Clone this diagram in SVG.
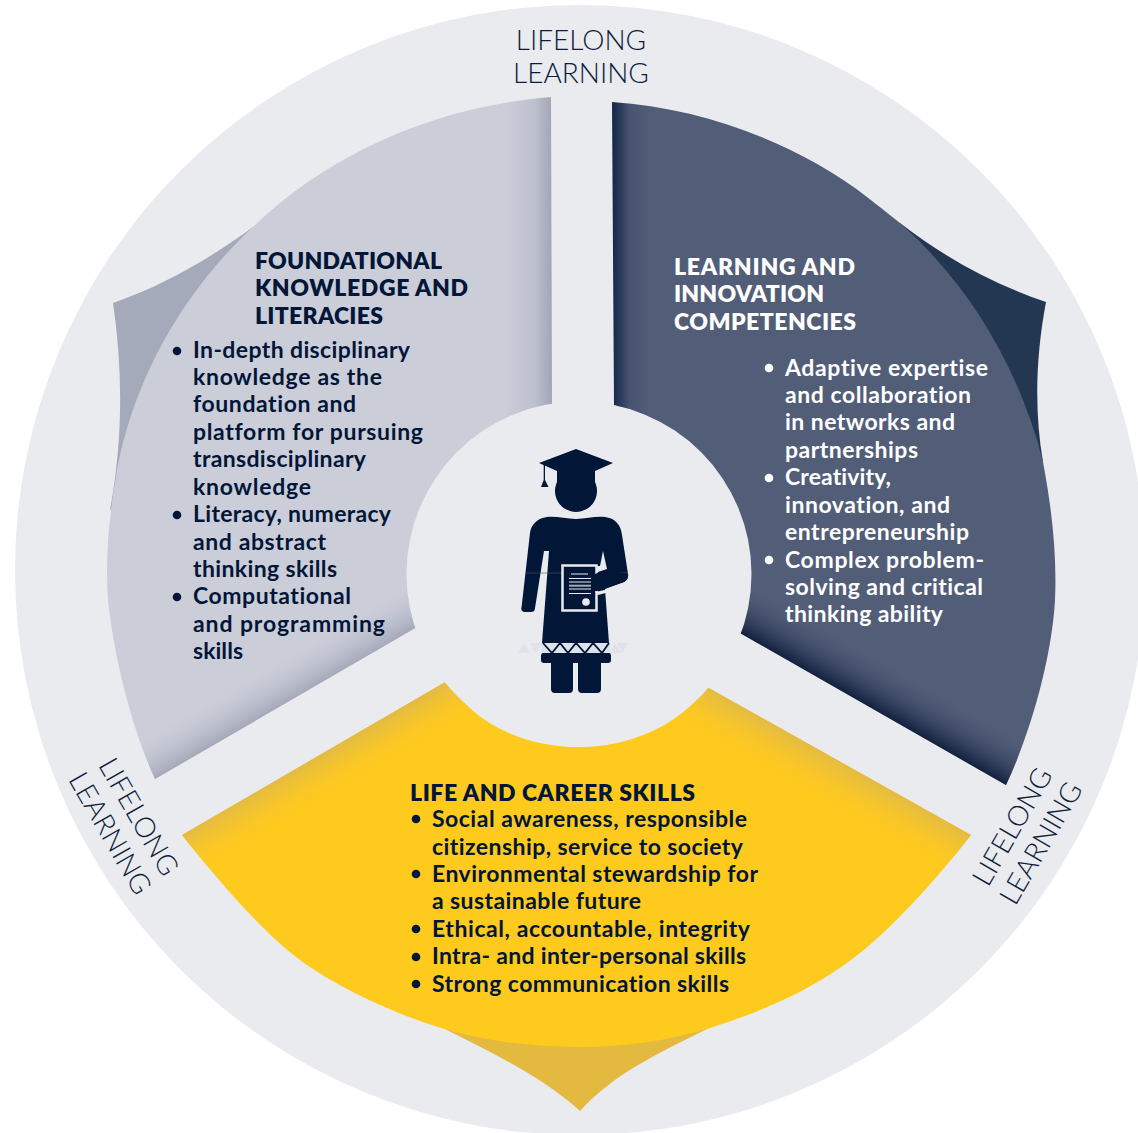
<svg xmlns="http://www.w3.org/2000/svg" width="1138" height="1133" viewBox="0 0 1138 1133">
<style>
text{font-family:"Lato","Open Sans",sans-serif;font-variant-ligatures:none}
.h{font-size:23px;font-weight:800}
.b{font-size:23px;font-weight:700}
.d{fill:#021638}.w{fill:#fff}
.l{font-size:28px;fill:#0e1c3c;font-weight:300;text-anchor:middle}
.fig{fill:#021638}
</style>
<defs>
<linearGradient id="gl" gradientUnits="userSpaceOnUse" x1="551" y1="0" x2="505" y2="0"><stop offset="0" stop-color="#a2a6b6"/><stop offset=".35" stop-color="#bdc0cd"/><stop offset="1" stop-color="#cbced9"/></linearGradient>
<linearGradient id="gr" gradientUnits="userSpaceOnUse" x1="613" y1="0" x2="650" y2="0"><stop offset="0" stop-color="#16294a"/><stop offset=".45" stop-color="#475370"/><stop offset="1" stop-color="#525d78"/></linearGradient>
<linearGradient id="gll" gradientUnits="userSpaceOnUse" x1="155" y1="779" x2="133" y2="741"><stop offset="0" stop-color="#a4a8b8"/><stop offset="1" stop-color="#cbced9" stop-opacity="0"/></linearGradient>
<linearGradient id="grr" gradientUnits="userSpaceOnUse" x1="740" y1="633" x2="764" y2="591"><stop offset="0" stop-color="#12213f"/><stop offset="1" stop-color="#525d78" stop-opacity="0"/></linearGradient>
<linearGradient id="gyl" gradientUnits="userSpaceOnUse" x1="447" y1="682" x2="470" y2="722"><stop offset="0" stop-color="#e3bb45"/><stop offset="1" stop-color="#ffca1e" stop-opacity="0"/></linearGradient>
<linearGradient id="gyr" gradientUnits="userSpaceOnUse" x1="707" y1="687" x2="683" y2="730"><stop offset="0" stop-color="#e3bb45"/><stop offset="1" stop-color="#ffca1e" stop-opacity="0"/></linearGradient>
<path id="pl" d="M551 97C430 107 325 157 253 227C185 290 135 375 117 470C109 515 105 560 108 600C113 650 130 725 155 779L417 627C440 525 490 430 552 405Z"/>
<path id="pr" d="M612 102C705 108 800 145 867 197C880 207 890 215 900 223C970 285 1020 370 1043 462C1052 510 1057 555 1055 600C1052 655 1032 730 1006 785L740 633C720 525 680 430 614 405Z"/>
<path id="py" d="M182 835L447 681C475 725 525 747 580 747C630 747 680 725 707 687L971 835C936 880 889 932 851 960C805 994 759 1012 713 1027C669 1041 625 1047 580 1047C535 1047 487 1042 441 1028C395 1014 338 988 300 960C262 932 218 880 182 835Z"/>
</defs>
<g id="ring"><circle cx="580" cy="570" r="565" fill="#e9ebef"/></g>

<g id="node-foundational">
<path d="M113 303C165 285 212 257 253 227L300 350L110 510C123 440 123 370 113 303Z" fill="#a5aaba"/>
<use href="#pl" fill="url(#gl)"/>
<use href="#pl" fill="url(#gll)"/>
<text class="h d" x="255" y="269" textLength="187">FOUNDATIONAL</text>
<text class="h d" x="255" y="296" textLength="213">KNOWLEDGE AND</text>
<text class="h d" x="255" y="324" textLength="128">LITERACIES</text>
<g class="d">
<circle cx="177" cy="351" r="4.3"/><circle cx="177" cy="515" r="4.3"/><circle cx="177" cy="597" r="4.3"/>
</g>
<text class="b d" x="193" y="358" textLength="217">In-depth disciplinary</text>
<text class="b d" x="193" y="385" textLength="189">knowledge as the</text>
<text class="b d" x="193" y="412" textLength="163">foundation and</text>
<text class="b d" x="193" y="440" textLength="230">platform for pursuing</text>
<text class="b d" x="193" y="467" textLength="173">transdisciplinary</text>
<text class="b d" x="193" y="495" textLength="118">knowledge</text>
<text class="b d" x="193" y="522" textLength="198">Literacy, numeracy</text>
<text class="b d" x="193" y="550" textLength="133">and abstract</text>
<text class="b d" x="193" y="577" textLength="144">thinking skills</text>
<text class="b d" x="193" y="604" textLength="158">Computational</text>
<text class="b d" x="193" y="632" textLength="192">and programming</text>
<text class="b d" x="193" y="659" textLength="50">skills</text>
</g>

<g id="node-learning">
<path d="M900 223C945 258 995 285 1046 302C1036 355 1034 410 1043 462L900 400Z" fill="#233753"/>
<use href="#pr" fill="url(#gr)"/>
<use href="#pr" fill="url(#grr)"/>
<text class="h w" x="674" y="274.500" textLength="181">LEARNING AND</text>
<text class="h w" x="674" y="302" textLength="150">INNOVATION</text>
<text class="h w" x="674" y="329.500" textLength="182">COMPETENCIES</text>
<g class="w">
<circle cx="769" cy="368" r="4.3"/><circle cx="769" cy="478" r="4.3"/><circle cx="769" cy="560" r="4.3"/>
</g>
<text class="b w" x="785" y="376" textLength="203">Adaptive expertise</text>
<text class="b w" x="785" y="403" textLength="186">and collaboration</text>
<text class="b w" x="785" y="430" textLength="170">in networks and</text>
<text class="b w" x="785" y="458" textLength="133">partnerships</text>
<text class="b w" x="785" y="485" textLength="106">Creativity,</text>
<text class="b w" x="785" y="513" textLength="165">innovation, and</text>
<text class="b w" x="785" y="540" textLength="184">entrepreneurship</text>
<text class="b w" x="785" y="568" textLength="199">Complex problem-</text>
<text class="b w" x="785" y="595" textLength="198">solving and critical</text>
<text class="b w" x="785" y="622" textLength="158">thinking ability</text>
</g>

<g id="node-life">
<path d="M441 1027C490 1052 540 1075 580 1111C615 1072 665 1050 713 1026L580 1030Z" fill="#e3b93f"/>
<use href="#py" fill="#ffca1e"/>
<use href="#py" fill="url(#gyl)"/>
<use href="#py" fill="url(#gyr)"/>
<text class="h d" x="410" y="800.500" textLength="285">LIFE AND CAREER SKILLS</text>
<g class="d">
<circle cx="416" cy="819" r="4.3"/><circle cx="416" cy="874" r="4.3"/><circle cx="416" cy="929" r="4.3"/><circle cx="416" cy="957" r="4.3"/><circle cx="416" cy="984" r="4.3"/>
</g>
<text class="b d" x="432" y="827" textLength="315">Social awareness, responsible</text>
<text class="b d" x="432" y="855" textLength="311">citizenship, service to society</text>
<text class="b d" x="432" y="882" textLength="326">Environmental stewardship for</text>
<text class="b d" x="432" y="909" textLength="209">a sustainable future</text>
<text class="b d" x="432" y="937" textLength="318">Ethical, accountable, integrity</text>
<text class="b d" x="432" y="964" textLength="314">Intra- and inter-personal skills</text>
<text class="b d" x="432" y="992" textLength="297">Strong communication skills</text>
</g>

<g id="connectors"></g>

<g id="node-centre">
<circle cx="579" cy="574" r="172.500" fill="#e9ebef"/>
<path d="M518 653L524 643L530 653ZM530 643H542L536 653ZM610 653L615 643L621 653ZM617 643H628L622 653Z" fill="#dfe2e8"/>
<path class="fig" d="M576 449L613 463L595 471V482A21 21 0 1 1 557 482V471L539 463Z"/>
<path class="fig" d="M543.700 463H545V480L548.500 487H541L543.700 480Z"/>
<path class="fig" d="M547 517C556 516 566 519 576 519C586 519 595 516 605 517C615 518 621 525 622 535L628 574C628.500 578 627 580 624 582L605 589L609 643H542L549 551H544L535 608C535 611 533 612 531 612L524 612C521 611 521 609 521.700 606L530 533C531 525 537 518 547 517Z"/>
<path d="M526 573H628" stroke="#4a5569" stroke-width="1" opacity=".6"/>
<path d="M603 551L607 569L595 573V566H600Z" fill="#e9ebef"/>
<rect x="562.500" y="565.500" width="34" height="45" fill="#021638" stroke="#e9ebef" stroke-width="2.500"/>
<path class="fig" d="M595 574L607 569.500L628 574C628.500 578 627 580 624 582L597 591H595Z"/>
<path d="M595 592L607 589.500L607.500 592.500L598 595Z" fill="#e9ebef"/>
<g stroke="#e9ebef" stroke-width="1.200">
<path d="M571 574H588M569 578.500H591M569 582H591M569 589H591M569 593.500H591"/>
<path d="M569 585.700H591" stroke="#a5aaba" stroke-width="2"/>
</g>
<circle cx="586" cy="602" r="3.800" fill="#e9ebef"/>
<path d="M542 643H610V653H542Z" fill="#dfe2e8"/>
<path d="M543 643L552 653L560 643L568 653L576 643L585 653L593 643L602 653L609 643" fill="none" stroke="#021638" stroke-width="1.800"/>
<path d="M543 653H609C611 653 611 655 611 657V660C611 662 610 663 608 663H601V689C601 692 599 693 597 693H582C579 693 578 691 578 689V663H573V689C573 692 571 693 569 693H555C552 693 551 691 551 689V663H544C542 663 541 662 541 660V656C541 654 542 653 543 653Z" class="fig"/>
</g>

<g id="label-top">
<text class="l" x="581" y="50">LIFELONG</text>
<text class="l" x="581" y="83">LEARNING</text>
</g>
<g id="label-right" transform="translate(1025 834) rotate(-60)">
<text class="l" x="0" y="-5">LIFELONG</text>
<text class="l" x="0" y="28">LEARNING</text>
</g>
<g id="label-left" transform="translate(126 824) rotate(60)">
<text class="l" x="0" y="-5">LIFELONG</text>
<text class="l" x="0" y="28">LEARNING</text>
</g>
</svg>
